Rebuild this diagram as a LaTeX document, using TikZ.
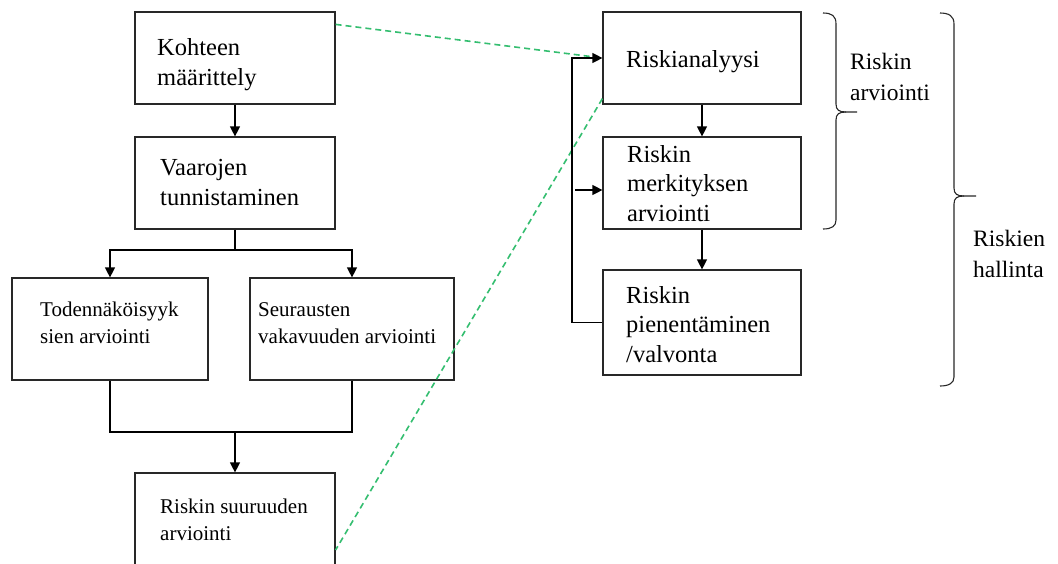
\documentclass[tikz,border=0pt]{standalone}
\usepackage{fontspec}
\setmainfont{Liberation Serif}
\usetikzlibrary{arrows.meta}
\definecolor{dashgreen}{RGB}{52,190,112}
\definecolor{boxline}{RGB}{40,40,40}

\begin{document}
\begin{tikzpicture}[x=1pt,y=-1pt,
  box/.style={draw=boxline, line width=1.2pt, rectangle, inner sep=0pt},
  bigtxt/.style={anchor=base west, inner sep=0pt, align=left,
                 font=\fontsize{24.5}{29.5}\selectfont},
  smalltxt/.style={anchor=base west, inner sep=0pt, align=left,
                   font=\fontsize{21}{26.5}\selectfont},
  bracetxt/.style={anchor=base west, inner sep=0pt, align=left,
                   font=\fontsize{23.5}{31}\selectfont},
  flow/.style={draw=black, line width=1.2pt, -{Triangle[length=10pt,width=10pt]}},
  link/.style={draw=black, line width=1.2pt},
  ref/.style={draw=dashgreen, line width=1.6pt, dash pattern=on 6pt off 4pt},
  bracepath/.style={draw=boxline, line width=1.1pt}]

\clip (0,0) rectangle (1058,563);
\fill[white] (0,0) rectangle (1058,563);

% left column: identification and estimation steps
\node[box, minimum width=200pt, minimum height=92pt]  (k)  at (235,58)  {};
\node[box, minimum width=200pt, minimum height=92pt]  (v)  at (235,183) {};
\node[box, minimum width=196pt, minimum height=102pt] (t)  at (110,329) {};
\node[box, minimum width=204pt, minimum height=102pt] (s)  at (352,329) {};
\node[box, minimum width=200pt, minimum height=110pt] (r)  at (235,528) {};

% right column: analysis, evaluation, reduction
\node[box, minimum width=198pt, minimum height=92pt]  (ra) at (702,58)  {};
\node[box, minimum width=198pt, minimum height=92pt]  (rm) at (702,183) {};
\node[box, minimum width=198pt, minimum height=105pt] (rp) at (702,322.5) {};

% box texts (placed by the baseline of their last line)
\node[bigtxt]   (k-t)  at (157,85)  {Kohteen\\määrittely};
\node[bigtxt]   (v-t)  at (160,205) {Vaarojen\\tunnistaminen};
\node[smalltxt] (t-t)  at (40,343)  {Todennäköisyyk\\sien arviointi};
\node[smalltxt] (s-t)  at (258,343) {Seurausten\\vakavuuden arviointi};
\node[smalltxt] (r-t)  at (160,540) {Riskin suuruuden\\arviointi};
\node[bigtxt]   (ra-t) at (626,67)  {Riskianalyysi};
\node[bigtxt]   (rm-t) at (627,221) {Riskin\\merkityksen\\arviointi};
\node[bigtxt]   (rp-t) at (626,362) {Riskin\\pienentäminen\\/valvonta};

% dashed green references between the two columns
\coordinate (g1) at ([yshift=-13pt]k.north east);
\coordinate (g2) at ([yshift=6pt]ra.south west);
\coordinate (g3) at ([yshift=-22pt]r.east);
\draw[ref] (g1) -- (ra.west);
\draw[ref] (g2) -- (g3);

% left column connectors
\coordinate (split) at (235,250);
\coordinate (join)  at (235,432);
\draw[flow] (k) -- (v);
\draw[link] (v.south) -- (split);
\draw[flow] (split) -| (t.north);
\draw[flow] (split) -| (s.north);
\draw[link] (t.south) |- (join);
\draw[link] (s.south) |- (join);
\draw[flow] (join) -- (r.north);

% right column connectors and feedback loop
\coordinate (loop) at (572,0);
\coordinate (tap)  at (575,190);
\draw[flow] (ra) -- (rm);
\draw[flow] (rm) -- (rp);
\draw[flow] (rp.west) -- (rp.west -| loop) |- (ra.west);
\draw[flow] (tap) -- (tap -| rm.west);

% braces
\draw[bracepath] (823,13) .. controls (832,13) and (836,16) .. (836,24)
  -- (836,104) .. controls (836,110) and (839,112) .. (846,112) -- (857,112);
\draw[bracepath] (846,112) .. controls (839,112) and (836,114) .. (836,120)
  -- (836,220) .. controls (836,226) and (832,229) .. (823,229);
\draw[bracepath] (940,13) .. controls (949,13) and (954,16) .. (954,24)
  -- (954,188) .. controls (954,194) and (957,196) .. (964,196) -- (976,196);
\draw[bracepath] (964,196) .. controls (957,196) and (954,198) .. (954,204)
  -- (954,377) .. controls (954,383) and (949,386) .. (940,386);

% brace labels
\node[bracetxt] (lab1) at (850,100) {Riskin\\arviointi};
\node[bracetxt] (lab2) at (973,277) {Riskien\\hallinta};
\end{tikzpicture}
\end{document}
